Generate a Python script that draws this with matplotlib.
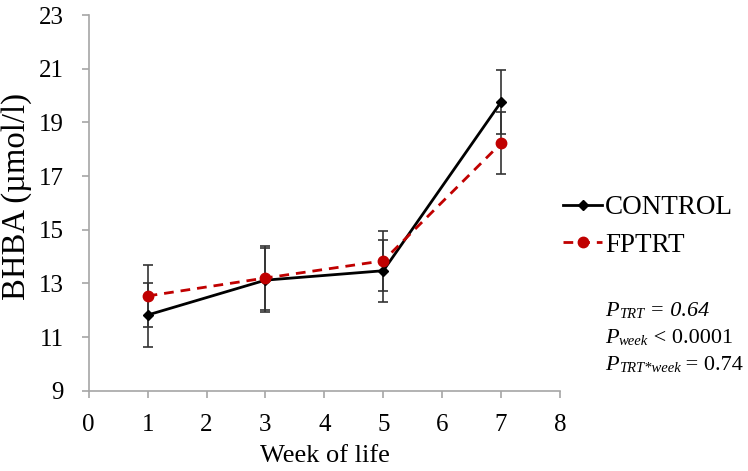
import matplotlib
matplotlib.use("Agg")
import matplotlib.pyplot as plt

weeks = [1, 3, 5, 7]
control = [11.82, 13.12, 13.47, 19.76]
control_err = [1.18, 1.20, 1.15, 1.19]
fptrt = [12.53, 13.20, 13.84, 18.22]
fptrt_err = [1.17, 1.18, 1.12, 1.15]
xticks = [0, 1, 2, 3, 4, 5, 6, 7, 8]
yticks = [9, 11, 13, 15, 17, 19, 21, 23]

plt.rcParams['font.family'] = ['Liberation Serif', 'DejaVu Serif']

W, H = 748, 471
fig = plt.figure(figsize=(W / 100, H / 100), dpi=100)
ax = fig.add_axes([88.7 / W, 1 - 390.7 / H, (560 - 88.7) / W, (390.7 - 15) / H])

gray = '#A6A6A6'
red = '#C00000'

ax.errorbar(weeks, fptrt, yerr=fptrt_err, fmt='none', ecolor='#333333',
            elinewidth=1.2, capsize=3.5, capthick=1.2, zorder=2)
ax.errorbar(weeks, control, yerr=control_err, fmt='none', ecolor='#333333',
            elinewidth=1.2, capsize=3.5, capthick=1.2, zorder=2)
ax.plot(weeks, control, color='black', lw=2.0, marker='D', markersize=5.5,
        label='CONTROL', zorder=3)
ax.plot(weeks, fptrt, color=red, lw=2.0, ls=(0, (3.5, 2.5)), marker='o',
        markersize=7.5, label='FPTRT', zorder=4)

ax.set_xlim(0, 8)
ax.set_ylim(9, 23)
ax.set_xticks(xticks)
ax.set_yticks(yticks)
for s in ['top', 'right']:
    ax.spines[s].set_visible(False)
for s in ['left', 'bottom']:
    ax.spines[s].set_color(gray)
    ax.spines[s].set_linewidth(1.2)
ax.tick_params(axis='both', colors=gray, length=5, width=1.2, labelsize=18,
               labelcolor='black')
ax.tick_params(axis='y', pad=13)
ax.tick_params(axis='x', pad=12)

fig.text(260 / W, 1 - 462 / H, 'Week of life', fontsize=19, va='baseline')
fig.text(17 / W, 1 - 196 / H, 'BHBA (µmol/l)', fontsize=23.5, rotation=90,
         ha='center', va='center')

leg = fig.legend(loc='upper left', bbox_to_anchor=(563 / W, 1 - 195 / H),
                 frameon=False, fontsize=19.5, handlelength=1.45,
                 handletextpad=0.1, labelspacing=0.47, borderpad=0,
                 borderaxespad=0)

# p-value annotations built piece by piece (main text + small italic subscript)
fig.canvas.draw()
renderer = fig.canvas.get_renderer()


def rich_line(x_px, base_px, pieces):
    x = x_px
    for txt, size, style, dy in pieces:
        t = fig.text(x / W, 1 - (base_px + dy) / H, txt, fontsize=size,
                     style=style, va='baseline', ha='left')
        bb = t.get_window_extent(renderer=renderer)
        x += bb.width


fs = 16
sub = 10.5
rich_line(605, 316, [('P', fs, 'italic', 0), ('TRT', sub, 'italic', 2),
                     (' = 0.64', fs, 'italic', 0)])
rich_line(605, 343, [('P', fs, 'italic', 0), ('week', sub, 'italic', 2),
                     (' < 0.0001', fs, 'normal', 0)])
rich_line(605, 370, [('P', fs, 'italic', 0), ('TRT*week', sub, 'italic', 2),
                     (' = 0.74', fs, 'normal', 0)])

fig.savefig('out.png', dpi=100)
